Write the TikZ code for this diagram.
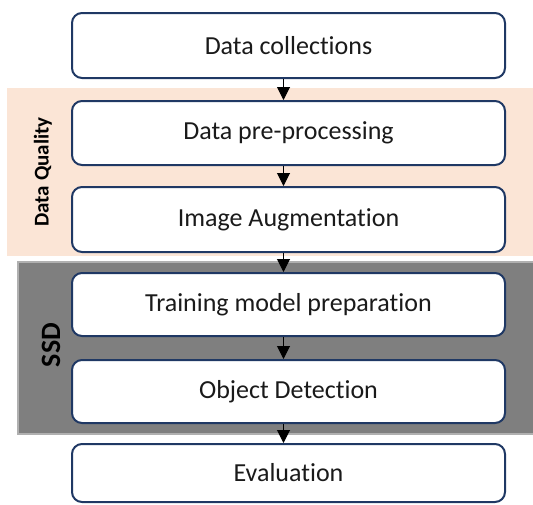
\documentclass[tikz,border=0pt]{standalone}
\usepackage{fontspec}
\setmainfont{Carlito}[Ligatures=NoCommon]
\usetikzlibrary{arrows.meta}
\definecolor{peach}{HTML}{FBE5D6}
\definecolor{ssdgray}{HTML}{7F7F7F}
\definecolor{ssdedge}{HTML}{B0B0B0}
\definecolor{navy}{HTML}{1F3864}
\definecolor{txt}{HTML}{1A1A1A}
\tikzset{
  stepbox/.style={draw=navy, line width=2pt, fill=white, rounded corners=10pt,
    minimum width=433pt, inner sep=0pt, text=txt, font=\fontsize{26}{30}\selectfont},
  arr/.style={-{Triangle[width=13pt,length=13pt]}, line width=1pt, black},
  grouplabel/.style={rotate=90, font=\bfseries, text=black}
}
\begin{document}
\begin{tikzpicture}[x=1pt,y=-1pt]
\useasboundingbox (0,0) rectangle (533,504);
% group backgrounds
\fill[peach] (7,88) rectangle (533,256);
\draw[ssdedge, line width=2pt, fill=ssdgray] (18,262) rectangle (534,434);
\node[grouplabel, font=\bfseries\fontsize{21}{24}\selectfont] (dq) at (43,172) {Data Quality};
\node[grouplabel, font=\bfseries\fontsize{28}{30}\selectfont] (ssd) at (51,345) {SSD};
% steps
\node[stepbox, minimum height=65pt] (dc) at (288.5,45.5) {Data collections};
\node[stepbox, minimum height=64pt] (pp) at (288.5,133) {Data pre-processing};
\node[stepbox, minimum height=65pt] (ia) at (288.5,219.5) {Image Augmentation};
\node[stepbox, minimum height=63pt] (tm) at (288.5,304.5) {Training model preparation};
\node[stepbox, minimum height=63pt] (od) at (288.5,391.5) {Object Detection};
\node[stepbox, minimum height=58pt] (ev) at (288.5,473) {Evaluation};
% connectors
\foreach \a/\b in {dc/pp, pp/ia, ia/tm, tm/od, od/ev}
  \draw[arr] ([xshift=-5pt]\a.south) -- ([xshift=-5pt]\b.north);
\end{tikzpicture}
\end{document}
